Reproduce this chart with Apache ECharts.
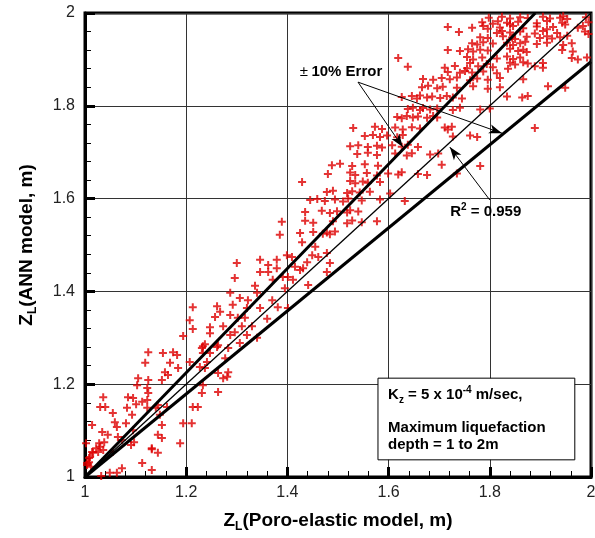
<!DOCTYPE html>
<html>
<head>
<meta charset="utf-8">
<script src="https://cdn.jsdelivr.net/npm/echarts@6/dist/echarts.min.js"></script>
<style>
  html, body { margin: 0; padding: 0; background: #fff; }
  #chart { width: 595px; height: 538px; }
</style>
</head>
<body>
<div id="chart"></div>
<script>
// ANN vs poro-elastic liquefaction depth
const pointsUpper = [
  [1.798,1.990],[1.824,1.992],[1.840,1.988],[1.860,1.991],[1.875,1.989],[1.905,1.992],[1.919,1.988],[1.939,1.990],[1.945,1.993],[1.953,1.987],[1.990,1.991],
  [1.785,1.980],[1.806,1.977],[1.816,1.982],[1.834,1.979],[1.840,1.976],[1.856,1.981],[1.893,1.978],[1.913,1.983],[1.943,1.979],[1.949,1.975],[1.995,1.980],
  [1.717,1.970],[1.765,1.968],[1.787,1.972],[1.796,1.966],[1.820,1.969],[1.846,1.972],[1.866,1.967],[1.893,1.971],[1.913,1.965],[1.925,1.970],[1.974,1.968],[1.984,1.972],
  [1.739,1.959],[1.814,1.957],[1.824,1.961],[1.840,1.958],[1.860,1.960],[1.889,1.956],[1.905,1.961],[1.933,1.957],[1.988,1.960],[1.995,1.955],
  [1.781,1.948],[1.796,1.946],[1.826,1.950],[1.844,1.947],[1.850,1.944],[1.873,1.949],[1.899,1.946],[1.913,1.950],[1.923,1.945],[1.939,1.948],[1.953,1.951],
  [1.765,1.935],[1.775,1.932],[1.787,1.937],[1.806,1.934],[1.834,1.936],[1.846,1.931],[1.860,1.935],[1.870,1.938],[1.893,1.933],[1.913,1.936],[1.945,1.931],[1.962,1.935],
  [1.717,1.920],[1.741,1.918],[1.757,1.922],[1.767,1.917],[1.781,1.921],[1.796,1.919],[1.840,1.923],[1.856,1.918],[1.866,1.921],[1.873,1.916],[1.943,1.920],[1.964,1.917],
  [1.619,1.903],[1.755,1.905],[1.767,1.900],[1.785,1.904],[1.814,1.902],[1.834,1.906],[1.846,1.901],[1.860,1.904],[1.962,1.903],[1.974,1.900],[1.992,1.904],
  [1.761,1.892],[1.794,1.890],[1.840,1.893],[1.850,1.889],[1.866,1.894],[1.875,1.891],[1.905,1.892],
  [1.638,1.884],[1.711,1.882],[1.731,1.886],[1.755,1.881],[1.777,1.885],[1.806,1.883],[1.836,1.880],[1.889,1.885],[1.905,1.882],
  [1.717,1.873],[1.741,1.871],[1.751,1.875],[1.765,1.872],[1.787,1.874],[1.814,1.870],
  [1.668,1.858],[1.688,1.856],[1.705,1.860],[1.721,1.857],[1.735,1.861],[1.761,1.855],[1.775,1.859],[1.796,1.856],[1.820,1.860],[1.866,1.857],
  [1.666,1.840],[1.678,1.843],[1.696,1.838],[1.707,1.841],[1.735,1.839],[1.767,1.842],[1.796,1.837],[1.820,1.840],[1.915,1.842],[1.949,1.839]
];
const pointsMiddle = [
  [1.626,1.819],[1.646,1.821],[1.656,1.816],[1.662,1.822],[1.676,1.818],[1.686,1.820],[1.702,1.817],[1.715,1.821],[1.727,1.818],[1.745,1.816],[1.834,1.820],[1.864,1.818],[1.875,1.821],
  [1.638,1.793],[1.648,1.796],[1.662,1.791],[1.668,1.795],[1.682,1.792],[1.696,1.794],[1.727,1.791],[1.741,1.796],[1.781,1.792],[1.800,1.794],
  [1.617,1.776],[1.626,1.773],[1.636,1.778],[1.648,1.775],[1.658,1.777],[1.676,1.774],[1.688,1.778],[1.696,1.775],
  [1.530,1.752],[1.573,1.755],[1.587,1.750],[1.613,1.753],[1.628,1.749],[1.646,1.754],[1.662,1.751],[1.711,1.753],[1.717,1.749],[1.725,1.755],[1.889,1.752],
  [1.553,1.735],[1.569,1.737],[1.583,1.733],[1.597,1.736],[1.617,1.732],[1.628,1.737],[1.727,1.734],[1.761,1.736],[1.775,1.733],
  [1.524,1.713],[1.540,1.715],[1.559,1.711],[1.577,1.714],[1.587,1.710],[1.607,1.715],[1.626,1.712],[1.638,1.716],[1.658,1.711],
  [1.538,1.696],[1.559,1.699],[1.577,1.694],[1.613,1.697],[1.636,1.693],[1.646,1.698],[1.682,1.695],[1.698,1.697],
  [1.488,1.672],[1.504,1.675],[1.528,1.670],[1.553,1.674],[1.579,1.671],[1.705,1.673],[1.781,1.670],
  [1.480,1.653],[1.524,1.656],[1.534,1.651],[1.557,1.655],[1.577,1.650],[1.599,1.654],[1.619,1.652],[1.626,1.657],[1.658,1.653],[1.676,1.651],[1.735,1.654],
  [1.429,1.636],[1.524,1.638],[1.534,1.633],[1.549,1.637],[1.559,1.634],[1.583,1.636],
  [1.478,1.614],[1.490,1.617],[1.518,1.612],[1.528,1.616],[1.543,1.613],[1.563,1.615],[1.603,1.611],
  [1.445,1.597],[1.459,1.599],[1.474,1.595],[1.494,1.598],[1.510,1.594],[1.520,1.600],[1.547,1.596],[1.583,1.598],[1.632,1.595],
  [1.435,1.571],[1.468,1.574],[1.484,1.569],[1.498,1.573],[1.518,1.570],[1.524,1.575],[1.540,1.572],
  [1.389,1.550],[1.435,1.552],[1.451,1.548],[1.490,1.551],[1.518,1.547],[1.528,1.553],[1.547,1.549],[1.577,1.551],
  [1.425,1.526],[1.451,1.528],[1.470,1.524],[1.478,1.527],[1.484,1.523],[1.494,1.529],[1.385,1.522],
  [1.429,1.506],[1.455,1.496],[1.449,1.478],[1.439,1.463],[1.461,1.474],[1.478,1.483],[1.484,1.461],[1.478,1.442],
  [1.441,1.414],[1.425,1.446],[1.415,1.453],[1.431,1.450],[1.399,1.478],[1.409,1.474],[1.391,1.431],[1.401,1.431],
  [1.411,1.425],[1.395,1.407],[1.381,1.366],[1.401,1.364]
];
const pointsLower = [
  [1.346,1.468],[1.362,1.457],[1.379,1.468],[1.379,1.450],[1.300,1.461],[1.346,1.442],[1.362,1.442],[1.296,1.429],
  [1.336,1.412],[1.371,1.425],[1.287,1.397],[1.340,1.397],[1.306,1.386],[1.322,1.381],[1.370,1.381],[1.213,1.366],
  [1.261,1.368],[1.292,1.371],[1.320,1.364],[1.346,1.364],[1.267,1.356],[1.207,1.338],[1.257,1.345],[1.287,1.349],
  [1.302,1.343],[1.316,1.343],[1.360,1.341],[1.213,1.319],[1.247,1.323],[1.273,1.325],[1.310,1.325],[1.330,1.325],
  [1.194,1.304],[1.247,1.310],[1.287,1.306],[1.296,1.312],[1.320,1.306],[1.233,1.282],[1.261,1.280],[1.283,1.278],
  [1.306,1.289],[1.340,1.300],[1.231,1.278],[1.237,1.286],[1.263,1.284],[1.233,1.267],[1.247,1.267],[1.277,1.256],
  [1.207,1.248],[1.241,1.248],[1.227,1.237],[1.237,1.235],[1.263,1.224],[1.283,1.226],[1.281,1.216],[1.273,1.213],
  [1.263,1.183],[1.231,1.181],[1.233,1.198],[1.213,1.151],[1.223,1.151],[1.194,1.116],[1.211,1.116],[1.188,1.073],
  [1.125,1.269],[1.154,1.267],[1.174,1.269],[1.182,1.263],[1.119,1.246],[1.168,1.246],[1.184,1.235],[1.158,1.226],
  [1.164,1.220],[1.152,1.209],[1.105,1.213],[1.125,1.209],[1.103,1.198],[1.123,1.192],[1.125,1.181],[1.036,1.172],
  [1.085,1.172],[1.095,1.170],[1.123,1.166],[1.113,1.162],[1.030,1.151],[1.040,1.151],[1.083,1.149],[1.123,1.149],
  [1.144,1.155],[1.162,1.151],[1.055,1.138],[1.059,1.118],[1.063,1.108],[1.093,1.134],[1.148,1.134],[1.152,1.112],
  [1.045,1.091],[1.065,1.086],[1.030,1.065],[1.036,1.058],[1.026,1.054],[1.016,1.052],[1.010,1.043],[1.004,1.030],
  [1.002,1.073],[1.055,1.054],[1.073,1.080],[1.095,1.101],[1.144,1.091],[1.152,1.084],[1.132,1.062],[1.144,1.052],
  [1.113,1.030],[1.132,1.015],[1.073,1.019],[1.049,1.009],[1.063,1.009],[1.101,1.157],[1.140,1.149],[1.081,1.116],
  [1.014,1.112],[1.034,1.097],[1.028,1.073],[1.038,1.075],[1.022,1.062],[1.014,1.054],[1.008,1.041],[1.008,1.032],
  [1.004,1.026],[1.012,1.022],[1.091,1.069],[1.097,1.075],[1.132,1.060],[1.032,1.002]
];

// 1:1 line and +-10% error lines, all from (1,1)
const lineOneToOne = [[1, 1], [2, 2]];
const lineUpper = [[1, 1], [1.89, 2]];
const lineLower = [[1, 1], [2, 1.895]];

// annotation arrows [from, to]
const arrows = [
  [[1.5395, 1.851], [1.628, 1.711]],
  [[1.5395, 1.851], [1.824, 1.741]],
  [[1.800, 1.597], [1.721, 1.711]]
];
const errorLabelAt = [1.506, 1.873];
const r2LabelAt = [1.792, 1.571];
const noteBox = [[1.579, 1.213], [1.968, 1.037]];
const noteLines = [[1.599, 1.177], [1.599, 1.106], [1.599, 1.069]];

const FONT = '"Liberation Sans", Arial, Helvetica, sans-serif';
const plus = 'path://M3,0H5V3H8V5H5V8H3V5H0V3H3Z';

var chart = echarts.init(document.getElementById('chart'))

const nameRich = {
  b: { fontSize: 19, fontWeight: 'bold', fontFamily: FONT, color: '#000', lineHeight: 24, verticalAlign: 'middle' },
  s: { fontSize: 12, fontWeight: 'bold', fontFamily: FONT, color: '#000', lineHeight: 24, verticalAlign: 'bottom' }
}

function axis(name, gap, labelMargin) {
  return {
    type: 'value',
    min: 1,
    max: 2,
    interval: 0.2,
    name: name,
    nameLocation: 'middle',
    nameGap: gap,
    nameTextStyle: { rich: nameRich },
    axisLine: { show: true, lineStyle: { color: '#000', width: 3 } },
    axisTick: { show: true, inside: true, length: 10, lineStyle: { color: '#000', width: 3 } },
    minorTick: { show: true, splitNumber: 5, length: 6, lineStyle: { color: '#000', width: 1 } },
    splitLine: { show: true, lineStyle: { color: '#333', width: 1 } },
    axisLabel: { fontSize: 16, fontFamily: FONT, color: '#222', margin: labelMargin }
  }
}

var option = {
  animation: false,
  grid: {
    left: 85, right: 4, top: 13, bottom: 61,
    show: true, borderColor: '#000', borderWidth: 3,
    outerBoundsMode: 'none'
  },
  xAxis: axis('{b|Z}{s|L}{b|(Poro-elastic model, m)}', 32, 8),
  yAxis: axis('{b|Z}{s|L}{b|(ANN model, m)}', 46, 10),
  series: [
    {
      type: 'scatter',
      data: pointsUpper.concat(pointsMiddle, pointsLower),
      symbol: plus,
      symbolSize: 8,
      itemStyle: { color: '#dd0000' },
      z: 2
    },
    {
      type: 'line', data: lineOneToOne, symbol: 'none', z: 3,
      lineStyle: { color: '#000', width: 1.3 },
      markLine: {
        silent: true,
        symbol: ['none', 'arrow'],
        symbolSize: [7, 13],
        label: { show: false },
        lineStyle: { color: '#000', width: 1, type: 'solid' },
        data: arrows.map(a => [{ coord: a[0] }, { coord: a[1] }])
      }
    },
    { type: 'line', data: lineUpper, symbol: 'none', z: 3, lineStyle: { color: '#000', width: 3 } },
    { type: 'line', data: lineLower, symbol: 'none', z: 3, lineStyle: { color: '#000', width: 3 } }
  ]
}

chart.setOption(option)

// annotations placed from data coords
const px = p => chart.convertToPixel({ gridIndex: 0 }, p)
const tl = px(noteBox[0]), br = px(noteBox[1])
const txtRich = {
  b: { fontSize: 15, fontWeight: 'bold', fontFamily: FONT, fill: '#000', lineHeight: 20, verticalAlign: 'middle' },
  n: { fontSize: 15, fontFamily: FONT, fill: '#000', lineHeight: 20, verticalAlign: 'middle' },
  sup: { fontSize: 10, fontWeight: 'bold', fontFamily: FONT, fill: '#000', lineHeight: 20, verticalAlign: 'top' },
  sub: { fontSize: 10, fontWeight: 'bold', fontFamily: FONT, fill: '#000', lineHeight: 20, verticalAlign: 'bottom' }
}
function note(pos, text, align) {
  const p = px(pos)
  return {
    type: 'text', x: p[0], y: p[1], z: 101,
    style: { text: text, rich: txtRich, align: align || 'left', verticalAlign: 'middle' }
  }
}

chart.setOption({
  graphic: [
    {
      type: 'rect', z: 100,
      shape: { x: tl[0], y: tl[1], width: br[0] - tl[0], height: br[1] - tl[1] },
      style: { fill: '#fff', stroke: '#000', lineWidth: 1 }
    },
    note(noteLines[0], '{b|K}{sub|z}{b| = 5 x 10}{sup|-4}{b| m/sec,}'),
    note(noteLines[1], '{b|Maximum liquefaction}'),
    note(noteLines[2], '{b|depth = 1 to 2m}'),
    note(errorLabelAt, '{n|±} {b|10% Error}', 'center'),
    note(r2LabelAt, '{b|R}{sup|2}{b| = 0.959}', 'center')
  ]
})

window.addEventListener('resize', function() {
  chart.resize()
})
</script>
</body>
</html>
